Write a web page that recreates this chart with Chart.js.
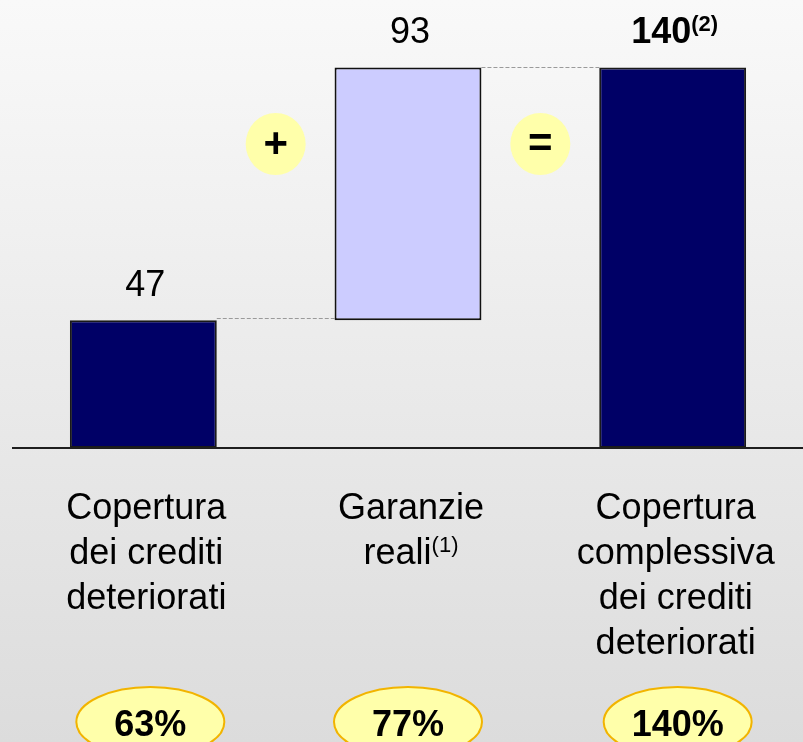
<!DOCTYPE html>
<html>
<head>
<meta charset="utf-8">
<script src="https://cdn.jsdelivr.net/npm/chart.js@4.4.1/dist/chart.umd.min.js"></script>
<style>
html,body{margin:0;padding:0;overflow:hidden;background:#e6e6e6;}
#wrap{width:806px;height:742px;}
</style>
</head>
<body>
<div id="wrap"><canvas id="c" width="806" height="742"></canvas></div>
<script>
// ---- data ----
const categories = [
  ['Copertura', 'dei crediti', 'deteriorati'],
  ['Garanzie', 'reali'],
  ['Copertura', 'complessiva', 'dei crediti', 'deteriorati']
];
const categorySup = ['', '(1)', ''];
const stepValues = [47, 93, 140];
const valueLabels = ['47', '93', '140'];
const valueSup = ['', '', '(2)'];
const valueBold = [false, false, true];
const coverageRatios = ['63%', '77%', '140%'];
const operators = ['+', '='];

// floating ranges for the waterfall
const ranges = [
  [0, stepValues[0]],
  [stepValues[0], stepValues[0] + stepValues[1]],
  [0, stepValues[2]]
];

const FONT = '"Liberation Sans", Arial, sans-serif';

const decor = {
  id: 'decor',
  beforeDraw(chart) {
    const ctx = chart.ctx;
    const g = ctx.createLinearGradient(0, 0, 0, chart.height);
    g.addColorStop(0, '#f9f9f9');
    g.addColorStop(1, '#dcdcdc');
    ctx.save();
    ctx.fillStyle = g;
    ctx.fillRect(0, 0, chart.width, chart.height);
    ctx.restore();
  },
  beforeDatasetsDraw(chart) {
    const ctx = chart.ctx;
    const bars = chart.getDatasetMeta(0).data;
    const ys = chart.scales.y;
    ctx.save();
    ctx.strokeStyle = '#9a9a9a';
    ctx.lineWidth = 1;
    ctx.setLineDash([4, 2]);
    for (let i = 0; i < bars.length - 1; i++) {
      const a = bars[i], b = bars[i + 1];
      const y = Math.round(ys.getPixelForValue(ranges[i][1])) + (i === 0 ? -1.5 : 0.5);
      ctx.beginPath();
      ctx.moveTo(a.x + a.width / 2, y);
      ctx.lineTo(b.x - b.width / 2, y);
      ctx.stroke();
    }
    ctx.restore();
  },
  afterDatasetsDraw(chart) {
    const ctx = chart.ctx;
    const bars = chart.getDatasetMeta(0).data;
    const ys = chart.scales.y;
    const area = chart.chartArea;
    ctx.save();
    // axis line
    const y0 = ys.getPixelForValue(0);
    ctx.strokeStyle = '#1e1e1e';
    ctx.lineWidth = 2;
    ctx.beginPath();
    ctx.moveTo(area.left + 1, y0);
    ctx.lineTo(area.right, y0);
    ctx.stroke();

    ctx.textAlign = 'left';
    ctx.textBaseline = 'alphabetic';
    ctx.fillStyle = '#000';

    function drawWithSup(text, sup, cx, baseline, bold, size, supSize) {
      ctx.font = (bold ? 'bold ' : '') + size + 'px ' + FONT;
      const w1 = ctx.measureText(text).width;
      ctx.font = (bold ? 'bold ' : '') + supSize + 'px ' + FONT;
      const w2 = sup ? ctx.measureText(sup).width : 0;
      const x0 = cx - (w1 + w2) / 2;
      ctx.font = (bold ? 'bold ' : '') + size + 'px ' + FONT;
      ctx.fillText(text, x0, baseline);
      if (sup) {
        ctx.font = (bold ? 'bold ' : '') + supSize + 'px ' + FONT;
        ctx.fillText(sup, x0 + w1, baseline - 12);
      }
    }

    // value labels
    bars.forEach((b, i) => {
      drawWithSup(valueLabels[i], valueSup[i], b.x + 2, b.y - 24, valueBold[i], 36, 22);
    });

    // category labels
    bars.forEach((b, i) => {
      const lines = categories[i];
      lines.forEach((ln, j) => {
        const sup = j === lines.length - 1 ? categorySup[i] : '';
        drawWithSup(ln, sup, b.x + 3, 519 + j * 45, false, 36, 22);
      });
    });

    // operator bubbles between bars
    for (let i = 0; i < operators.length; i++) {
      const a = bars[i], b = bars[i + 1];
      const cx = (a.x + a.width / 2 + b.x - b.width / 2) / 2;
      const cy = 144;
      ctx.fillStyle = '#ffffaa';
      ctx.beginPath();
      ctx.ellipse(cx, cy, 30, 31, 0, 0, Math.PI * 2);
      ctx.fill();
      ctx.fillStyle = '#000';
      ctx.font = 'bold 42px ' + FONT;
      ctx.textAlign = 'center';
      ctx.textBaseline = 'middle';
      ctx.fillText(operators[i], cx, cy + 1);
      ctx.textAlign = 'left';
      ctx.textBaseline = 'alphabetic';
    }

    // coverage ratio bubbles
    const offs = [7, 0, 5];
    bars.forEach((b, i) => {
      const cx = b.x + offs[i];
      const cy = 722;
      ctx.fillStyle = '#ffffaa';
      ctx.strokeStyle = '#f2b400';
      ctx.lineWidth = 2;
      ctx.beginPath();
      ctx.ellipse(cx, cy, 74, 35, 0, 0, Math.PI * 2);
      ctx.fill();
      ctx.stroke();
      ctx.fillStyle = '#000';
      ctx.font = 'bold 36px ' + FONT;
      ctx.textAlign = 'center';
      ctx.fillText(coverageRatios[i], cx, 736);
      ctx.textAlign = 'left';
    });
    ctx.restore();
  }
};

new Chart(document.getElementById('c'), {
  type: 'bar',
  data: {
    labels: categories.map(c => c.join(' ')),
    datasets: [{
      data: ranges,
      backgroundColor: ['#000066', '#ccccff', '#000066'],
      borderColor: ['#1a1a1a', '#111111', '#1a1a1a'],
      borderWidth: 2,
      borderSkipped: false,
      barPercentage: 0.555,
      categoryPercentage: 1
    }]
  },
  options: {
    responsive: false,
    animation: false,
    devicePixelRatio: 1,
    layout: { padding: { left: 11, right: 1, top: 13, bottom: 294 } },
    plugins: { legend: { display: false }, tooltip: { enabled: false } },
    scales: {
      x: { display: false, offset: true },
      y: { display: false, min: 0, max: 160 }
    }
  },
  plugins: [decor]
});
</script>
</body>
</html>
